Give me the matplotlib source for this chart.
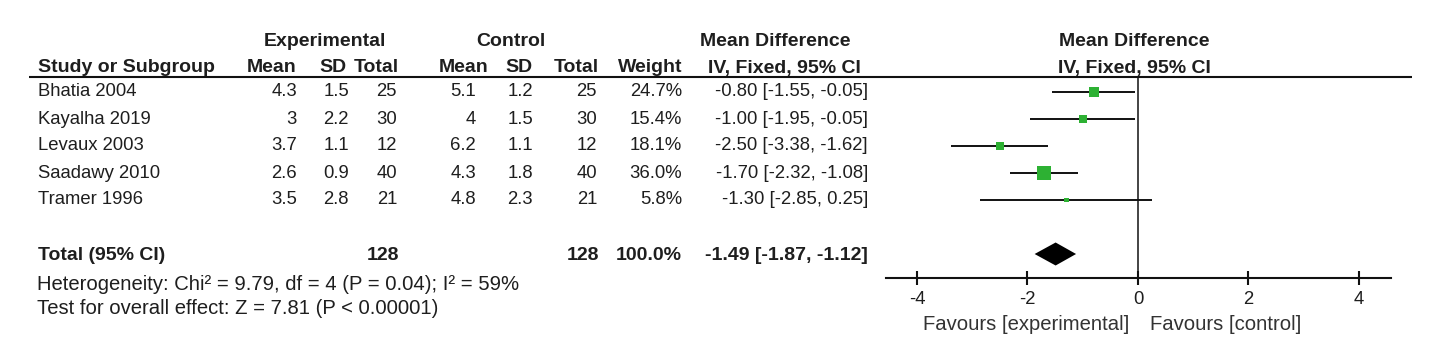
import numpy as np
import matplotlib
matplotlib.use("Agg")
import matplotlib.pyplot as plt
from matplotlib.patches import Polygon

plt.rcParams['font.family'] = ['Liberation Sans', 'DejaVu Sans']

# per-study data
studies = ['Bhatia 2004', 'Kayalha 2019', 'Levaux 2003', 'Saadawy 2010', 'Tramer 1996']
exp_mean = [4.3, 3, 3.7, 2.6, 3.5]
exp_sd = [1.5, 2.2, 1.1, 0.9, 2.8]
exp_n = [25, 30, 12, 40, 21]
ctl_mean = [5.1, 4, 6.2, 4.3, 4.8]
ctl_sd = [1.2, 1.5, 1.1, 1.8, 2.3]
ctl_n = [25, 30, 12, 40, 21]
weight = [24.7, 15.4, 18.1, 36.0, 5.8]
md = [-0.80, -1.00, -2.50, -1.70, -1.30]
ci_lo = [-1.55, -1.95, -3.38, -2.32, -2.85]
ci_hi = [-0.05, -0.05, -1.62, -1.08, 0.25]

# pooled result
tot_exp_n = 128
tot_ctl_n = 128
tot_weight = 100.0
tot_md = -1.49
tot_lo = -1.87
tot_hi = -1.12
heterogeneity = 'Heterogeneity: Chi\u00b2 = 9.79, df = 4 (P = 0.04); I\u00b2 = 59%'
overall = 'Test for overall effect: Z = 7.81 (P < 0.00001)'
ticks = [-4, -2, 0, 2, 4]

W, H = 1441, 346
TXT = '#1e1e1e'
GREEN = '#2db133'
fs = 13.3
fsb = 14
fs_note = 14.6

fig = plt.figure(figsize=(W / 100, H / 100), dpi=100)

# table part, in pixel coordinates
tx = fig.add_axes([0, 0, 1, 1])
tx.set_xlim(0, W)
tx.set_ylim(H, 0)
tx.axis('off')

def row_y(i):
    return 92 + 27 * i

def put(x, y, s, ha='right', bold=False, size=None, color=TXT):
    tx.text(x, y, s, ha=ha, va='center', color=color,
            fontsize=size or (fsb if bold else fs),
            fontweight='bold' if bold else 'normal')

# headers
put(325, 42, 'Experimental', ha='center', bold=True)
put(511, 42, 'Control', ha='center', bold=True)
put(775, 42, 'Mean Difference', ha='center', bold=True)
put(1134, 42, 'Mean Difference', ha='center', bold=True)
put(38, 68, 'Study or Subgroup', ha='left', bold=True)
for x, s in [(297, 'Mean'), (346, 'SD'), (399, 'Total'), (489, 'Mean'),
             (533, 'SD'), (599, 'Total'), (682, 'Weight')]:
    put(x, 68, s, bold=True)
put(784, 68, 'IV, Fixed, 95% CI', ha='center', bold=True)
put(1134, 68, 'IV, Fixed, 95% CI', ha='center', bold=True)
tx.plot([29, 1412], [77, 77], color='#111111', lw=1.5, solid_capstyle='butt')

for i, name in enumerate(studies):
    y = row_y(i)
    put(38, y, name, ha='left')
    put(297, y, '{:g}'.format(exp_mean[i]))
    put(349, y, '{:g}'.format(exp_sd[i]))
    put(397, y, str(exp_n[i]))
    put(476, y, '{:g}'.format(ctl_mean[i]))
    put(533, y, '{:g}'.format(ctl_sd[i]))
    put(597, y, str(ctl_n[i]))
    put(682, y, '{:.1f}%'.format(weight[i]))
    put(868, y, '{:.2f} [{:.2f}, {:.2f}]'.format(md[i], ci_lo[i], ci_hi[i]))

yt = row_y(6) + 1
put(38, yt, 'Total (95% CI)', ha='left', bold=True)
put(399, yt, str(tot_exp_n), bold=True)
put(599, yt, str(tot_ctl_n), bold=True)
put(682, yt, '{:.1f}%'.format(tot_weight), bold=True)
put(868, yt, '{:.2f} [{:.2f}, {:.2f}]'.format(tot_md, tot_lo, tot_hi), bold=True)
put(37, 284, heterogeneity, ha='left', size=fs_note)
put(37, 309, overall, ha='left', size=fs_note)

# forest plot axes: x in mean difference units, y in row index
x0, x1 = 886, 1391
y0, y1 = 77, 278
fx = fig.add_axes([x0 / W, 1 - y1 / H, (x1 - x0) / W, (y1 - y0) / H])
fx.set_facecolor('none')
fx.set_xlim(-4.56, 4.58)
top = -15 / 27
fx.set_ylim(top + (y1 - y0) / 27, top)
for s in ['top', 'left', 'right']:
    fx.spines[s].set_visible(False)
fx.spines['bottom'].set_linewidth(1.5)
fx.spines['bottom'].set_color('#111111')
fx.set_yticks([])
fx.set_xticks(ticks)
fx.set_xticklabels([str(t) for t in ticks])
fx.tick_params(axis='x', direction='inout', length=10, width=1.5,
               colors='#111111', labelsize=fs, pad=4, labelcolor=TXT)

fx.axvline(0, color='#111111', lw=1.1)
rows = np.arange(len(studies))
fx.hlines(rows, ci_lo, ci_hi, color='#111111', lw=1.4)
side_px = 3.4 + 0.275 * np.array(weight)
fx.scatter(md, rows, marker='s', s=(side_px * 0.72) ** 2, color=GREEN,
           linewidths=0, zorder=3)

h = 11.5 / 27
fx.add_patch(Polygon([(tot_lo, 6), (tot_md, 6 - h), (tot_hi, 6), (tot_md, 6 + h)],
                     closed=True, color='black', lw=0))

fig.text(1129 / W, 1 - 324 / H, 'Favours [experimental]', ha='right', va='center',
         fontsize=fs_note, color='#333333')
fig.text(1150 / W, 1 - 324 / H, 'Favours [control]', ha='left', va='center',
         fontsize=fs_note, color='#333333')

fig.savefig('out.png', dpi=100)
